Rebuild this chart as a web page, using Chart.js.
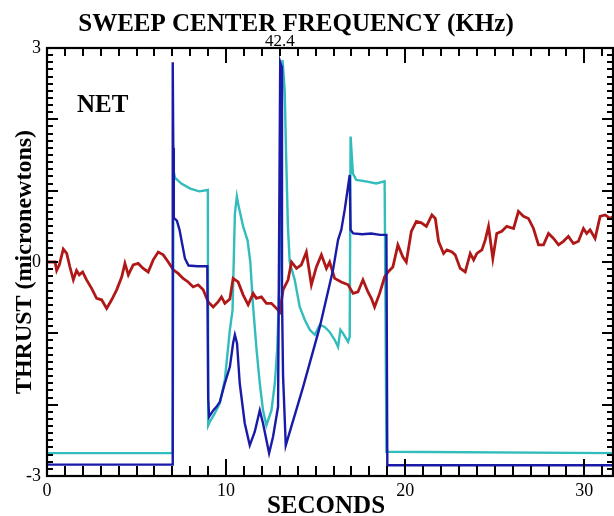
<!DOCTYPE html>
<html>
<head>
<meta charset="utf-8">
<script src="https://cdn.jsdelivr.net/npm/chart.js@4"></script>
<style>
html,body{margin:0;padding:0;background:#fff;}
#wrap{width:614px;height:516px;position:relative;}
</style>
</head>
<body>
<div id="wrap"><canvas id="c" width="614" height="516"></canvas></div>
<script>
// ---- data ----
const tRed = [0,0.17,0.45,0.54,0.69,0.91,1.10,1.28,1.47,1.65,1.80,1.99,2.21,2.49,2.77,3.05,3.33,3.61,3.89,4.17,4.35,4.54,4.81,5.09,5.37,5.65,5.93,6.21,6.49,6.77,7.05,7.32,7.60,7.88,8.16,8.44,8.72,9.00,9.28,9.55,9.74,9.93,10.21,10.39,10.67,10.95,11.23,11.51,11.69,11.97,12.25,12.53,12.81,13.00,13.18,13.46,13.65,13.93,14.20,14.48,14.76,15.04,15.32,15.60,15.78,16.06,16.43,16.81,17.09,17.36,17.64,17.92,18.11,18.29,18.57,18.85,19.04,19.31,19.59,19.87,20.06,20.34,20.62,20.90,21.18,21.49,21.68,21.86,22.14,22.33,22.61,22.79,23.07,23.35,23.63,23.82,24.00,24.28,24.47,24.65,24.89,25.11,25.39,25.67,26.05,26.32,26.60,26.88,27.16,27.44,27.72,28.00,28.28,28.56,28.83,29.11,29.39,29.67,29.95,30.13,30.32,30.60,30.88,31.16,31.44,31.62];
const vRed = [0.00,0.00,0.00,-0.12,-0.04,0.18,0.12,-0.07,-0.25,-0.12,-0.18,-0.14,-0.25,-0.37,-0.51,-0.53,-0.65,-0.53,-0.39,-0.21,-0.02,-0.18,-0.04,-0.02,-0.09,-0.14,0.03,0.14,0.10,0.00,-0.11,-0.16,-0.23,-0.28,-0.35,-0.32,-0.39,-0.56,-0.63,-0.56,-0.49,-0.58,-0.52,-0.23,-0.28,-0.46,-0.60,-0.44,-0.51,-0.49,-0.58,-0.58,-0.65,-0.70,-0.39,-0.25,0.00,-0.09,-0.04,0.14,-0.32,-0.07,0.10,-0.09,0.00,-0.23,-0.28,-0.32,-0.44,-0.42,-0.25,-0.42,-0.51,-0.63,-0.44,-0.21,-0.14,-0.07,0.24,0.07,0.00,0.43,0.57,0.55,0.50,0.66,0.61,0.29,0.12,0.17,0.14,0.10,-0.09,-0.14,0.12,0.03,0.12,0.17,0.31,0.50,0.05,0.40,0.43,0.50,0.47,0.71,0.64,0.61,0.47,0.24,0.24,0.40,0.33,0.24,0.29,0.36,0.26,0.29,0.47,0.40,0.45,0.33,0.64,0.66,0.61,0.64];

const tBlue = [0,7.00,7.02,7.05,7.08,7.25,7.40,7.55,7.70,7.90,8.40,8.95,9.00,9.05,9.28,9.46,9.65,9.93,10.21,10.39,10.49,10.61,10.76,11.04,11.32,11.60,11.88,12.06,12.40,12.62,12.90,13.02,13.08,13.12,13.18,13.33,14.30,15.23,15.97,16.25,16.43,16.62,16.90,16.95,17.10,17.60,18.10,18.60,18.95,19.00,31.62];
const vBlue = [-2.84,-2.84,2.80,1.60,0.62,0.58,0.45,0.25,0.05,-0.05,-0.06,-0.06,-1.91,-2.17,-2.08,-2.03,-1.96,-1.70,-1.47,-1.14,-1.02,-1.14,-1.70,-2.26,-2.57,-2.38,-2.08,-2.26,-2.68,-2.45,-2.03,2.80,2.75,-0.50,-1.60,-2.57,-1.75,-0.91,-0.11,0.31,0.45,0.73,1.22,0.45,0.40,0.39,0.40,0.38,0.38,-2.85,-2.85];

const tCyan = [0,7.02,7.06,7.15,7.50,8.00,8.50,8.98,9.00,9.09,9.37,9.65,9.93,10.21,10.36,10.49,10.60,10.70,10.95,11.20,11.35,11.50,11.70,11.88,12.06,12.25,12.53,12.72,12.85,12.98,13.10,13.15,13.27,13.35,13.45,13.55,13.83,14.11,14.39,14.67,14.95,15.23,15.50,15.78,16.06,16.25,16.38,16.53,16.81,16.90,16.95,17.08,17.27,17.80,18.38,18.85,18.95,31.62];
const vCyan = [-2.68,-2.68,1.28,1.18,1.10,1.03,0.99,1.01,-2.29,-2.24,-2.12,-1.98,-1.65,-0.95,-0.67,0.68,0.92,0.78,0.50,0.30,0.00,-0.60,-1.23,-1.70,-2.08,-2.29,-2.08,-1.70,-1.23,-0.30,2.00,2.83,2.41,1.50,0.50,0.00,-0.25,-0.63,-0.81,-0.95,-1.02,-0.88,-0.91,-0.98,-1.09,-1.19,-0.95,-1.00,-1.12,-1.05,1.76,1.24,1.15,1.13,1.10,1.13,-2.66,-2.68];

const xTickLabels = [0,10,20,30];
const yTickLabels = [-3,0,3];
const topTickValue = 13;
const topTickLabel = '42.4';

const mk = (ts, vs) => ts.map((t,i)=>({x:t, y:vs[i]}));
const SERIF = '"Liberation Serif", "Times New Roman", serif';

function drawFrame(chart){
  const ctx = chart.ctx;
  const ca = chart.chartArea;
  const xs = chart.scales.x, ys = chart.scales.y;
  const L = ca.left, R = ca.right, T = ca.top, B = ca.bottom;
  ctx.save();
  ctx.fillStyle = '#000000';
  for (let i = -30; i <= 30; i++) {
    const py = Math.round(ys.getPixelForValue(i / 10));
    const len = (Math.abs(i) % 10 === 0) ? 11 : 6;
    ctx.fillRect(L, py - 1, len, 2);
    ctx.fillRect(R - len, py - 1, len, 2);
  }
  for (let s = 0; s <= 31; s++) {
    const px = Math.round(xs.getPixelForValue(s));
    const lb = (s % 10 === 0) ? 17 : 10;
    const lt = (s % 10 === 0) ? 15 : 8;
    ctx.fillRect(px - 1, B - lb, 2, lb);
    ctx.fillRect(px - 1, T, 2, lt);
  }
  ctx.strokeStyle = '#000000';
  ctx.lineWidth = 2.2;
  ctx.strokeRect(L, T, R - L, B - T);

  ctx.textAlign = 'center';
  ctx.textBaseline = 'alphabetic';
  ctx.font = 'bold 25px ' + SERIF;
  ctx.fillText('SWEEP CENTER FREQUENCY (KHz)', 296, 31);
  ctx.font = '17px ' + SERIF;
  ctx.fillText(topTickLabel, xs.getPixelForValue(topTickValue), 46);
  ctx.font = 'bold 25px ' + SERIF;
  ctx.fillText('SECONDS', 326, 513);
  ctx.textAlign = 'left';
  ctx.fillText('NET', 77, 112);
  ctx.save();
  ctx.translate(31, 262);
  ctx.rotate(-Math.PI / 2);
  ctx.textAlign = 'center';
  ctx.font = 'bold 24px ' + SERIF;
  ctx.fillText('THRUST (micronewtons)', 0, 0);
  ctx.restore();
  ctx.restore();
}

const framePlugin = { id:'frame', afterDraw: drawFrame };

new Chart(document.getElementById('c'), {
  type:'line',
  data:{
    datasets:[
      {label:'blue', data:mk(tBlue,vBlue), borderColor:'#1a1aa8', borderWidth:2.4, order:1},
      {label:'red', data:mk(tRed,vRed), borderColor:'#b01818', borderWidth:2.8, order:2},
      {label:'cyan', data:mk(tCyan,vCyan), borderColor:'#33bcbc', borderWidth:2.4, order:3}
    ]
  },
  options:{
    responsive:false,
    animation:false,
    elements:{point:{radius:0}, line:{tension:0, fill:false}},
    layout:{padding:{top:48,right:1,left:0,bottom:0}},
    plugins:{legend:{display:false}, tooltip:{enabled:false}, title:{display:false}},
    scales:{
      x:{
        type:'linear', min:0, max:31.6,
        grid:{display:false, drawTicks:false},
        border:{display:false},
        afterBuildTicks(s){ s.ticks = xTickLabels.map(v=>({value:v})); },
        afterFit(s){ s.height = 40; },
        ticks:{padding:4, color:'#000', font:{family:SERIF, size:18}, maxRotation:0, autoSkip:false, callback:(v)=>String(v)}
      },
      y:{
        type:'linear', min:-3, max:3,
        grid:{display:false, drawTicks:false},
        border:{display:false},
        afterBuildTicks(s){ s.ticks = yTickLabels.map(v=>({value:v})); },
        afterFit(s){ s.width = 47; },
        ticks:{padding:6, color:'#000', font:{family:SERIF, size:18}, autoSkip:false, callback:(v)=>String(v)}
      }
    }
  },
  plugins:[framePlugin]
});
</script>
</body>
</html>
